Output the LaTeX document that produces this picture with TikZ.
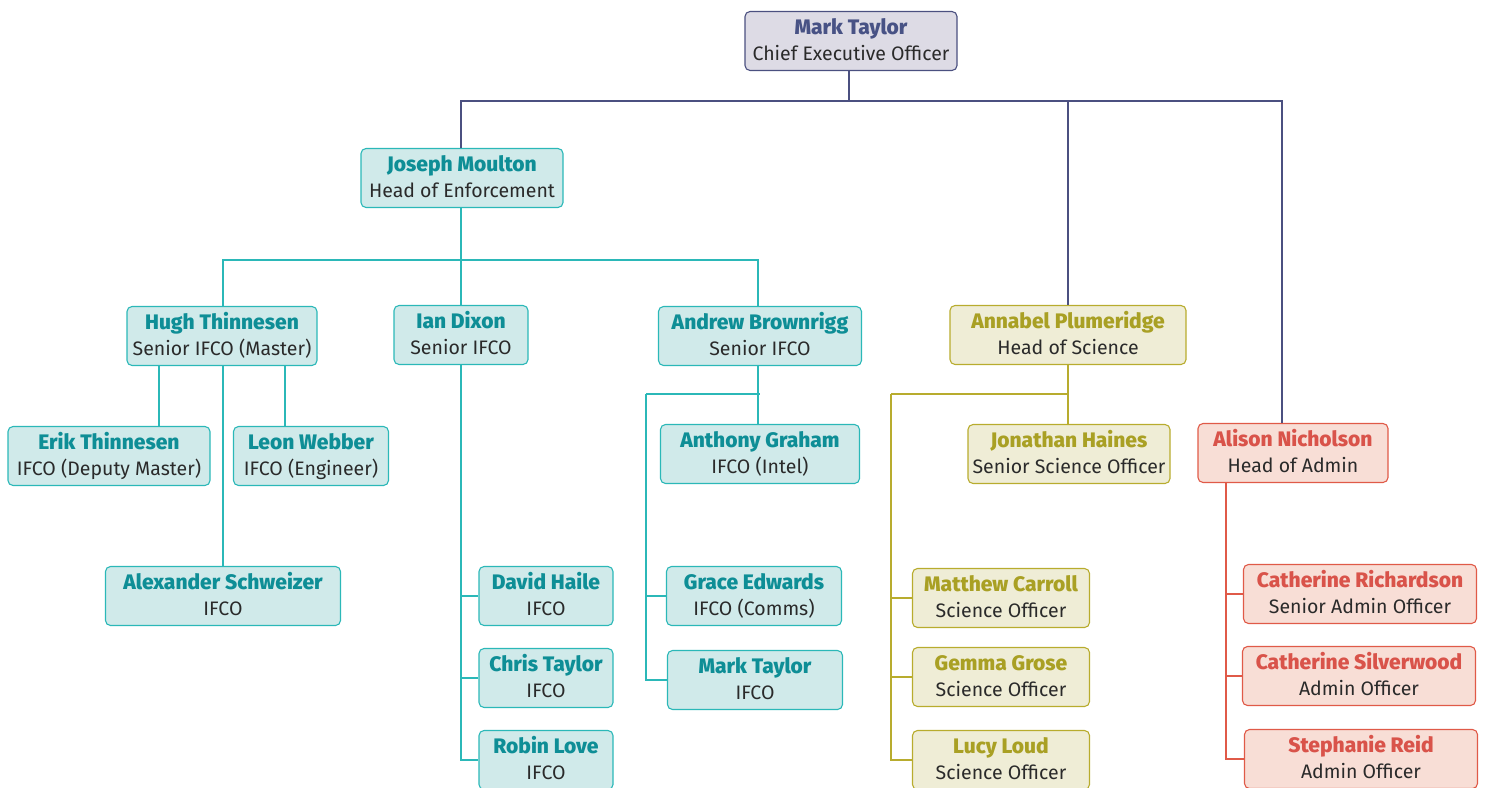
\documentclass[tikz,border=0pt]{standalone}
\usepackage{fontspec}
\setmainfont[BoldFont={Fira Sans ExtraBold}]{Fira Sans}
\usetikzlibrary{positioning}
\definecolor{ceofill}{HTML}{DDDBE5}
\definecolor{ceodraw}{HTML}{4B5080}
\definecolor{ceoname}{HTML}{485285}
\definecolor{tealfill}{HTML}{D0EAEA}
\definecolor{tealdraw}{HTML}{2BB8B8}
\definecolor{tealname}{HTML}{0E8E96}
\definecolor{olivefill}{HTML}{EFEDD6}
\definecolor{olivedraw}{HTML}{B8AC2E}
\definecolor{olivename}{HTML}{A9A024}
\definecolor{redfill}{HTML}{F8DED6}
\definecolor{reddraw}{HTML}{E05A48}
\definecolor{redname}{HTML}{D9534A}
\definecolor{bodytext}{HTML}{2A2A2A}
\newcommand{\nm}[1]{{\bfseries\color{nc}\fontsize{21}{26}\selectfont#1}\\}
\tikzset{
  box/.style={rounded corners=5pt, line width=1.1pt, minimum height=59pt,
    align=center, inner sep=0pt, text=bodytext, text height=40pt, text depth=2pt,
    font=\fontsize{19.5}{26}\selectfont},
  ceobox/.style={box, fill=ceofill, draw=ceodraw, execute at begin node=\colorlet{nc}{ceoname}},
  tealbox/.style={box, fill=tealfill, draw=tealdraw, execute at begin node=\colorlet{nc}{tealname}},
  olivebox/.style={box, fill=olivefill, draw=olivedraw, execute at begin node=\colorlet{nc}{olivename}},
  redbox/.style={box, fill=redfill, draw=reddraw, execute at begin node=\colorlet{nc}{redname}},
  ceoline/.style={draw=ceodraw, line width=1.1pt},
  tealline/.style={draw=tealdraw, line width=1.1pt},
  oliveline/.style={draw=olivedraw, line width=1.1pt},
  redline/.style={draw=reddraw, line width=1.1pt},
}
\begin{document}
\begin{tikzpicture}[x=1pt,y=1pt]
\useasboundingbox (0,0) rectangle (1485,-787);
% nodes
\node[ceobox, minimum width=212pt] (ceo) at (851,-41) {\nm{Mark Taylor}Chief Executive Officer};
\node[tealbox, minimum width=202pt] (joseph) at (462,-178) {\nm{Joseph Moulton}Head of Enforcement};
\node[tealbox, minimum width=190pt] (hugh) at (222,-336) {\nm{Hugh Thinnesen}Senior IFCO (Master)};
\node[tealbox, minimum width=134pt] (ian) at (461,-335) {\nm{Ian Dixon}Senior IFCO};
\node[tealbox, minimum width=203pt] (andrew) at (760,-336) {\nm{Andrew Brownrigg}Senior IFCO};
\node[olivebox, minimum width=236pt] (annabel) at (1068,-335) {\nm{Annabel Plumeridge}Head of Science};
\node[tealbox, minimum width=202pt] (erik) at (109,-456) {\nm{Erik Thinnesen}IFCO (Deputy Master)};
\node[tealbox, minimum width=155pt] (leon) at (311,-456) {\nm{Leon Webber}IFCO (Engineer)};
\node[tealbox, minimum width=235pt] (alex) at (223,-596) {\nm{Alexander Schweizer}IFCO};
\node[tealbox, minimum width=199pt] (anthony) at (760,-454) {\nm{Anthony Graham}IFCO (Intel)};
\node[olivebox, minimum width=202pt] (jonathan) at (1069,-454) {\nm{Jonathan Haines}Senior Science Officer};
\node[redbox, minimum width=190pt] (alison) at (1293,-453) {\nm{Alison Nicholson}Head of Admin};
\node[tealbox, minimum width=134pt] (david) at (546,-596) {\nm{David Haile}IFCO};
\node[tealbox, minimum width=134pt] (chris) at (546,-678) {\nm{Chris Taylor}IFCO};
\node[tealbox, minimum width=134pt] (robin) at (546,-760) {\nm{Robin Love}IFCO};
\node[tealbox, minimum width=175pt] (grace) at (754,-596) {\nm{Grace Edwards}IFCO (Comms)};
\node[tealbox, minimum width=175pt] (markb) at (755,-680) {\nm{Mark Taylor}IFCO};
\node[olivebox, minimum width=177pt] (matthew) at (1001,-598) {\nm{Matthew Carroll}Science Officer};
\node[olivebox, minimum width=177pt] (gemma) at (1001,-677) {\nm{Gemma Grose}Science Officer};
\node[olivebox, minimum width=177pt] (lucy) at (1001,-760) {\nm{Lucy Loud}Science Officer};
\node[redbox, minimum width=233pt] (cath1) at (1360,-594) {\nm{Catherine Richardson}Senior Admin Officer};
\node[redbox, minimum width=233pt] (cath2) at (1359,-676) {\nm{Catherine Silverwood}Admin Officer};
\node[redbox, minimum width=233pt] (steph) at (1361,-759) {\nm{Stephanie Reid}Admin Officer};
% bus coordinates
\coordinate (topbus) at (849,-101);
\coordinate (enfbus) at (461,-260);
\coordinate (andbus) at (646,-394);
\coordinate (scibus) at (891,-394);
% CEO level
\draw[ceoline] (ceo.south -| topbus) -- (topbus);
\draw[ceoline] (topbus) -| (joseph.north -| enfbus);
\draw[ceoline] (topbus) -| (annabel.north);
\draw[ceoline] (topbus) -| ([xshift=-11pt]alison.north);
% Enforcement
\draw[tealline] (joseph.south -| enfbus) -- (enfbus);
\draw[tealline] (enfbus) -| ([xshift=1pt]hugh.north);
\draw[tealline] (enfbus) -- (ian.north);
\draw[tealline] (enfbus) -| ([xshift=-2pt]andrew.north);
% Hugh
\draw[tealline] ([xshift=-63pt]hugh.south) -- ([xshift=50pt]erik.north);
\draw[tealline] ([xshift=63pt]hugh.south) -- ([xshift=-26pt]leon.north);
\draw[tealline] ([xshift=1pt]hugh.south) -- (alex.north);
% Ian
\draw[tealline] (ian.south) |- (robin.west);
\draw[tealline] (david.west) -- (david.west -| ian.south);
\draw[tealline] (chris.west) -- (chris.west -| ian.south);
% Andrew
\draw[tealline] ([xshift=-2pt]andrew.south) -- ([xshift=-2pt]anthony.north);
\draw[tealline] (andbus) -- (andbus -| anthony.north) ;
\draw[tealline] (andbus) |- (markb.west);
\draw[tealline] (grace.west) -- (grace.west -| andbus);
% Science
\draw[oliveline] (annabel.south) -- (jonathan.north -| annabel.south);
\draw[oliveline] (scibus) -- (scibus -| annabel.south);
\draw[oliveline] (scibus) |- (lucy.west);
\draw[oliveline] (matthew.west) -- (matthew.west -| scibus);
\draw[oliveline] (gemma.west) -- (gemma.west -| scibus);
% Admin
\draw[redline] ([xshift=-67pt]alison.south) |- (steph.west);
\draw[redline] (cath1.west) -- (cath1.west -| 1226,0);
\draw[redline] (cath2.west) -- (cath2.west -| 1226,0);
\end{tikzpicture}
\end{document}
